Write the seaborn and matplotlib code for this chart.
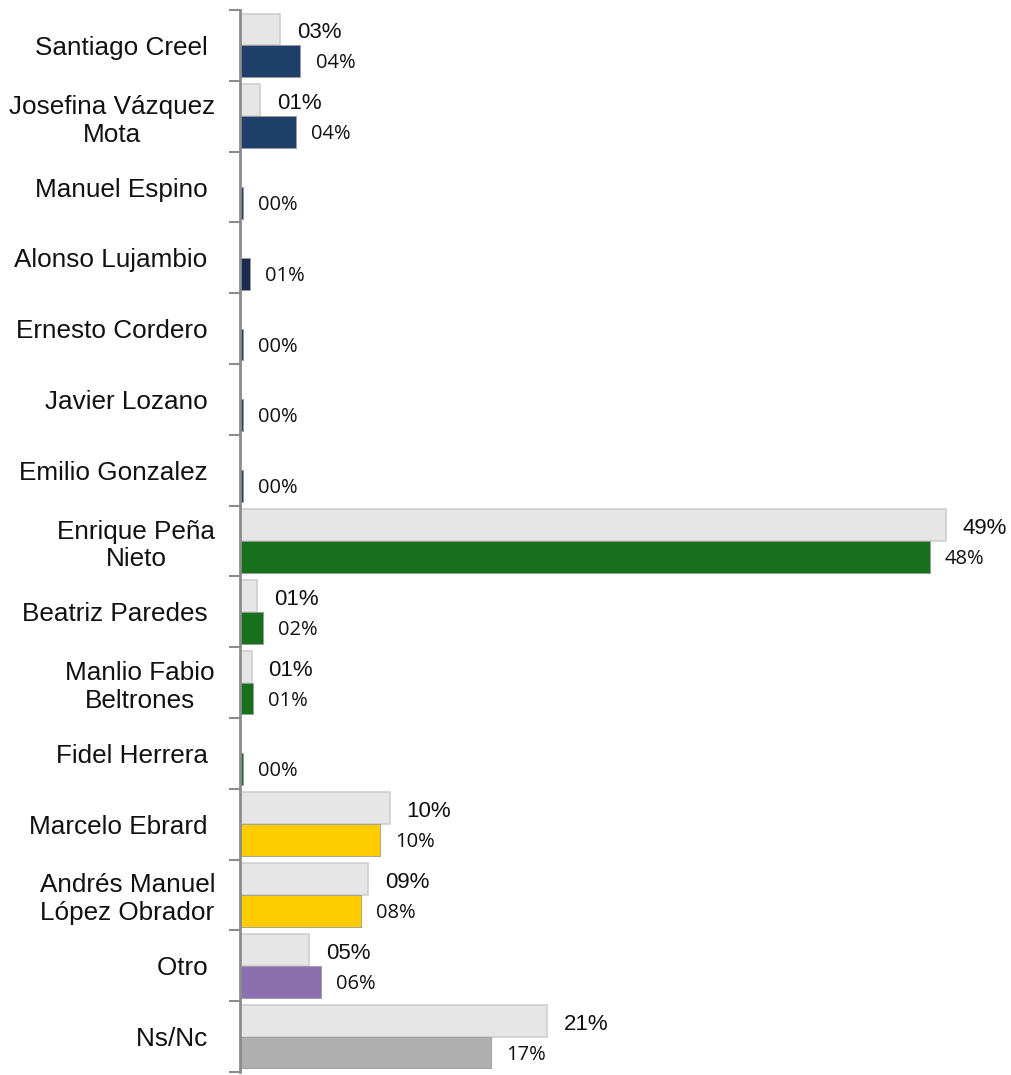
import numpy as np
import pandas as pd
import seaborn as sns
import matplotlib.pyplot as plt

sns.set_theme(style="white")

candidatos = ["Santiago Creel ", "Josefina Vázquez\nMota", "Manuel Espino ",
              "Alonso Lujambio ", "Ernesto Cordero ", "Javier Lozano ",
              "Emilio Gonzalez ", "Enrique Peña\nNieto", "Beatriz Paredes ",
              "Manlio Fabio\nBeltrones", "Fidel Herrera ", "Marcelo Ebrard ",
              "Andrés Manuel\nLópez Obrador", "Otro ", "Ns/Nc "]
anterior = [2.8, 1.4, 0, 0, 0, 0, 0, 49.0, 1.2, 0.8, 0, 10.4, 8.9, 4.8, 21.3]
actual = [4.2, 3.9, 0.2, 0.7, 0.2, 0.2, 0.2, 47.9, 1.6, 0.9, 0.2, 9.7, 8.4, 5.6, 17.4]
colores = ["#1f3f6b", "#1f3f6b", "#1f3f6b", "#172c4f", "#1f3f6b", "#1f3f6b",
           "#1f3f6b", "#17701c", "#17701c", "#17701c", "#17701c", "#ffcc00",
           "#ffcc00", "#8b6faf", "#b0b0b0"]

df = pd.DataFrame({
    "candidato": candidatos * 2,
    "valor": anterior + actual,
    "serie": ["anterior"] * len(candidatos) + ["actual"] * len(candidatos),
})

fig = plt.figure(figsize=(10.11, 10.75), dpi=100)
ax = fig.add_axes([240 / 1011, 1 - 1072 / 1075, 1 - 240 / 1011, 1062 / 1075])

sns.barplot(data=df, x="valor", y="candidato", hue="serie", orient="h",
            palette=["#e6e6e6", "#1f3f6b"], saturation=1, legend=False,
            width=0.9, ax=ax)

gris, color = ax.containers[0], ax.containers[1]
for p in gris:
    p.set_edgecolor("#cfcfcf")
    p.set_linewidth(1.2)
for p, c in zip(color, colores):
    p.set_facecolor(c)
    p.set_edgecolor("#9a9a9a")
    p.set_linewidth(0.6)

lab_gris = ["" if v == 0 else f"{round(v):02d}%" for v in anterior]
lab_color = [f"{round(v):02d}%" for v in actual]
tg = ax.bar_label(gris, labels=lab_gris, padding=12, fontsize=16,
                  family="Liberation Sans", color="#111111")
tc = ax.bar_label(color, labels=lab_color, padding=11, fontsize=14.5,
                  family="Open Sans", color="#111111")
# nudge labels slightly down like the original
for t in tg:
    t.xyann = (t.xyann[0], t.xyann[1] - 2.5)
for t in tc:
    t.xyann = (t.xyann[0], t.xyann[1] - 1.5)

ax.set_xlim(0, (1011 - 240) / 14.4)
ax.set_ylim(len(candidatos) - 0.5, -0.5)
ax.set_xlabel("")
ax.set_ylabel("")
ax.xaxis.set_visible(False)
for s in ["top", "right", "bottom"]:
    ax.spines[s].set_visible(False)
ax.spines["left"].set_color("#8c8c8c")
ax.spines["left"].set_linewidth(2)

ax.set_yticks(np.arange(-0.5, len(candidatos)), minor=True)
ax.tick_params(axis="y", which="minor", length=8, width=1.5, color="#8c8c8c", left=True)
ax.tick_params(axis="y", which="major", length=0, pad=18)
for t in ax.get_yticklabels():
    t.set_fontfamily("Liberation Sans")
    t.set_fontsize(18.8)
    t.set_multialignment("center")
    t.set_linespacing(1.2)
    t.set_color("#111111")

fig.savefig("out.png", dpi=100)
